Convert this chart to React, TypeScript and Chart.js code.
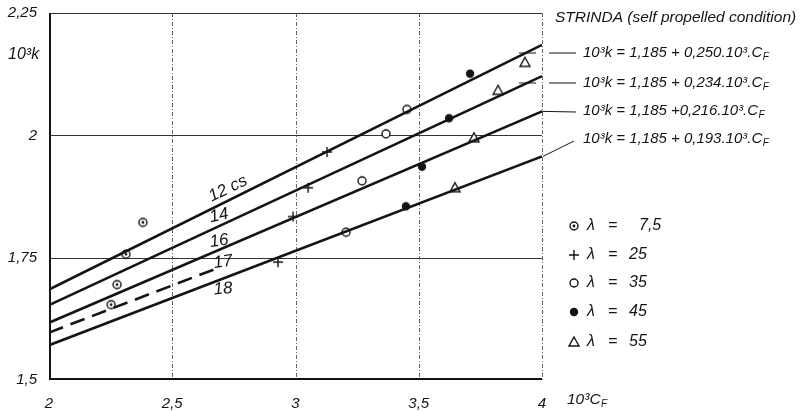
import React, { useEffect, useRef } from "react";
import { Chart, registerables } from "chart.js";

Chart.register(...registerables);

// ---- axis setup ----
const xMin = 2;
const xMax = 4;
const yMin = 1.5;
const yMax = 2.25;
const xStep = 0.5;
const yStep = 0.25;
const xTickLabels = ["2", "2,5", "3", "3,5", "4"];

// ---- fitted lines (10^3 k vs 10^3 C_F), endpoints at C_F = 2 and 4 ----
const lineX = [2, 4];
const line12 = [1.685, 2.185]; // 1,185 + 0,250 C_F
const line14 = [1.653, 2.121]; // 1,185 + 0,234 C_F
const line16 = [1.617, 2.049]; // 1,185 + 0,216 C_F
const line18 = [1.571, 1.957]; // 1,185 + 0,193 C_F
const line17X = [2, 2.68];
const line17 = [1.597, 1.728];

const lineLabels = ["12 cs", "14", "16", "17", "18"];
const equations = [
  "10³k = 1,185 + 0,250.10³.C",
  "10³k = 1,185 + 0,234.10³.C",
  "10³k = 1,185 +0,216.10³.C",
  "10³k = 1,185 + 0,193.10³.C",
];
const legendLabels = ["7,5", "25", "35", "45", "55"];

// ---- measured points ----
const lambda7_5X = [2.381, 2.312, 2.276, 2.252];
const lambda7_5Y = [1.822, 1.757, 1.695, 1.654];
const lambda25X = [3.128, 3.051, 2.99, 2.929];
const lambda25Y = [1.966, 1.893, 1.834, 1.741];
const lambda35X = [3.452, 3.367, 3.27, 3.205];
const lambda35Y = [2.053, 2.003, 1.907, 1.802];
const lambda45X = [3.708, 3.623, 3.513, 3.448];
const lambda45Y = [2.126, 2.035, 1.936, 1.855];
const lambda55X = [3.931, 3.822, 3.724, 3.647];
const lambda55Y = [2.149, 2.092, 1.995, 1.893];

const pts = (xs: number[], ys: number[]) => xs.map((x, i) => ({ x, y: ys[i] }));

const FONT = '"Liberation Sans", Arial, sans-serif';
const INK = "#141414";

// layout (data positions / pixel rows for annotations)
const labelPos = [
  { x: 2.726, y: 1.891, rot: -26, size: 17 },
  { x: 2.69, y: 1.836, rot: -12, size: 17 },
  { x: 2.69, y: 1.784, rot: -8, size: 17 },
  { x: 2.706, y: 1.741, rot: -8, size: 17 },
  { x: 2.706, y: 1.686, rot: -5, size: 17 },
];
const eqRows = [53, 83, 111, 139];
const legendRows = [226, 255, 283, 312, 342];

function drawMarker(g: CanvasRenderingContext2D, kind: string, x: number, y: number) {
  g.save();
  g.strokeStyle = INK;
  g.fillStyle = INK;
  g.lineWidth = 1.4;
  if (kind === "circleDot") {
    g.beginPath();
    g.arc(x, y, 4, 0, Math.PI * 2);
    g.fillStyle = "#fff";
    g.fill();
    g.stroke();
    g.beginPath();
    g.arc(x, y, 1.4, 0, Math.PI * 2);
    g.fillStyle = INK;
    g.fill();
  } else if (kind === "cross") {
    g.beginPath();
    g.moveTo(x - 5, y);
    g.lineTo(x + 5, y);
    g.moveTo(x, y - 5);
    g.lineTo(x, y + 5);
    g.stroke();
  } else if (kind === "circle") {
    g.beginPath();
    g.arc(x, y, 4, 0, Math.PI * 2);
    g.fillStyle = "#fff";
    g.fill();
    g.stroke();
  } else if (kind === "dot") {
    g.beginPath();
    g.arc(x, y, 4.2, 0, Math.PI * 2);
    g.fill();
  } else if (kind === "triangle") {
    g.beginPath();
    g.moveTo(x, y - 5);
    g.lineTo(x + 5, y + 4);
    g.lineTo(x - 5, y + 4);
    g.closePath();
    g.fillStyle = "#fff";
    g.fill();
    g.stroke();
  }
  g.restore();
}

function markerImage(kind: string) {
  const c = document.createElement("canvas");
  c.width = 14;
  c.height = 14;
  const g = c.getContext("2d")!;
  drawMarker(g, kind, 7, 7);
  return c;
}

const markerKinds = ["circleDot", "cross", "circle", "dot", "triangle"];

function drawCF(g: CanvasRenderingContext2D, text: string, x: number, y: number, size: number) {
  g.font = `italic ${size}px ${FONT}`;
  g.textAlign = "left";
  g.textBaseline = "middle";
  g.fillText(text, x, y);
  const w = g.measureText(text).width;
  g.font = `italic ${Math.round(size * 0.65)}px ${FONT}`;
  g.fillText("F", x + w + 0.5, y + size * 0.3);
}

const annotate = {
  id: "annotate",
  beforeDatasetsDraw(chart: any) {
    const g: CanvasRenderingContext2D = chart.ctx;
    const { left, right, top, bottom } = chart.chartArea;
    const xs = chart.scales.x;
    const ys = chart.scales.y;
    g.save();
    // horizontal grid
    g.strokeStyle = "#333";
    g.lineWidth = 1;
    for (let v = yMin + yStep; v < yMax - 1e-9; v += yStep) {
      const py = Math.round(ys.getPixelForValue(v)) + 0.5;
      g.beginPath();
      g.moveTo(left, py);
      g.lineTo(right, py);
      g.stroke();
    }
    // top border
    g.beginPath();
    g.moveTo(left, top + 0.5);
    g.lineTo(right, top + 0.5);
    g.stroke();
    // vertical grid (dashed)
    g.strokeStyle = "#666";
    g.setLineDash([4, 2, 1, 2]);
    for (let v = xMin + xStep; v <= xMax + 1e-9; v += xStep) {
      const px = Math.round(xs.getPixelForValue(v)) + 0.5;
      g.beginPath();
      g.moveTo(px, top);
      g.lineTo(px, bottom);
      g.stroke();
    }
    g.setLineDash([]);
    // left & bottom axis
    g.strokeStyle = INK;
    g.lineWidth = 2;
    g.beginPath();
    g.moveTo(left + 1, top);
    g.lineTo(left + 1, bottom - 1);
    g.lineTo(right, bottom - 1);
    g.stroke();
    g.restore();
  },
  afterDraw(chart: any) {
    const g: CanvasRenderingContext2D = chart.ctx;
    const xs = chart.scales.x;
    const ys = chart.scales.y;
    const { right, bottom } = chart.chartArea;
    g.save();
    g.fillStyle = INK;
    g.strokeStyle = INK;

    // x tick labels
    g.font = `italic 15px ${FONT}`;
    g.textAlign = "center";
    g.textBaseline = "middle";
    xs.ticks.forEach((t: any, i: number) => {
      g.fillText(xTickLabels[i] ?? String(t.value), xs.getPixelForValue(t.value), bottom + 24);
    });

    // line labels
    lineLabels.forEach((t, i) => {
      const p = labelPos[i];
      g.save();
      g.translate(xs.getPixelForValue(p.x), ys.getPixelForValue(p.y));
      g.rotate((p.rot * Math.PI) / 180);
      g.font = `italic ${p.size}px ${FONT}`;
      g.textAlign = "center";
      g.textBaseline = "middle";
      g.fillText(t, 0, 0);
      g.restore();
    });

    // axis titles
    g.font = `italic 16px ${FONT}`;
    g.textAlign = "left";
    g.textBaseline = "middle";
    g.fillText("10³k", 8, 55);
    drawCF(g, "10³C", 567, 400, 15.5);

    // title
    g.font = `italic 15.5px ${FONT}`;
    g.textBaseline = "middle";
    g.fillText("STRINDA (self propelled condition)", 555, 18);

    // equations + leaders
    const ends = [line12[1], line14[1], line16[1], line18[1]].map((v) => ys.getPixelForValue(v));
    equations.forEach((eq, i) => {
      const y = eqRows[i];
      drawCF(g, eq, 583, y, 15);
      g.lineWidth = 1;
      g.beginPath();
      if (i < 2) {
        g.moveTo(519, y);
        g.lineTo(536, y);
        g.moveTo(549, y);
        g.lineTo(576, y);
      } else if (i === 2) {
        g.moveTo(right - 1, ends[i]);
        g.lineTo(576, y + 1);
      } else {
        g.moveTo(right + 1, ends[i]);
        g.lineTo(574, y + 2);
      }
      g.stroke();
    });

    // legend
    legendLabels.forEach((t, i) => {
      const y = legendRows[i];
      drawMarker(g, markerKinds[i], 574, y);
      g.fillStyle = INK;
      g.font = `italic 16px ${FONT}`;
      g.textAlign = "left";
      g.textBaseline = "middle";
      g.fillText("λ", 587, y);
      g.fillText("=", 608, y);
      g.fillText(t, i === 0 ? 639 : 629, y);
    });
    g.restore();
  },
};

export default function App() {
  const ref = useRef<HTMLCanvasElement | null>(null);
  useEffect(() => {
    document.body.style.margin = "0";
    const canvas = ref.current!;
    const lineDs = (xs: number[], ys: number[], dash: number[] = []) => ({
      data: pts(xs, ys),
      showLine: true,
      borderColor: INK,
      borderWidth: 2.6,
      borderDash: dash,
      pointRadius: 0,
      fill: false,
    });
    const ptDs = (xs: number[], ys: number[], kind: string) => ({
      data: pts(xs, ys),
      showLine: false,
      pointStyle: markerImage(kind) as any,
      pointRadius: 5,
    });
    const chart = new Chart(canvas, {
      type: "scatter",
      data: {
        datasets: [
          lineDs(lineX, line12),
          lineDs(lineX, line14),
          lineDs(lineX, line16),
          lineDs(lineX, line18),
          lineDs(line17X, line17, [15, 8]),
          ptDs(lambda7_5X, lambda7_5Y, "circleDot"),
          ptDs(lambda25X, lambda25Y, "cross"),
          ptDs(lambda35X, lambda35Y, "circle"),
          ptDs(lambda45X, lambda45Y, "dot"),
          ptDs(lambda55X, lambda55Y, "triangle"),
        ] as any,
      },
      options: {
        animation: false,
        responsive: false,
        layout: { padding: { top: 10, right: 264, left: 0, bottom: 0 } },
        plugins: { legend: { display: false }, tooltip: { enabled: false } },
        scales: {
          x: {
            type: "linear",
            min: xMin,
            max: xMax,
            grid: { display: false },
            border: { display: false },
            afterFit: (s: any) => {
              s.height = 31;
            },
            ticks: {
              stepSize: xStep,
              display: false,
            },
          },
          y: {
            type: "linear",
            min: yMin,
            max: yMax,
            grid: { display: false },
            border: { display: false },
            afterFit: (s: any) => {
              s.width = 49;
            },
            ticks: {
              stepSize: yStep,
              color: INK,
              padding: 4,
              font: { family: FONT, size: 15, style: "italic" },
              callback: (v: any) => String(v).replace(".", ","),
            },
          },
        },
      } as any,
      plugins: [annotate],
    });
    return () => chart.destroy();
  }, []);
  return (
    <div style={{ position: "absolute", left: 0, top: 0, width: 806, height: 411, background: "#fff" }}>
      <canvas ref={ref} width={806} height={411} />
    </div>
  );
}
